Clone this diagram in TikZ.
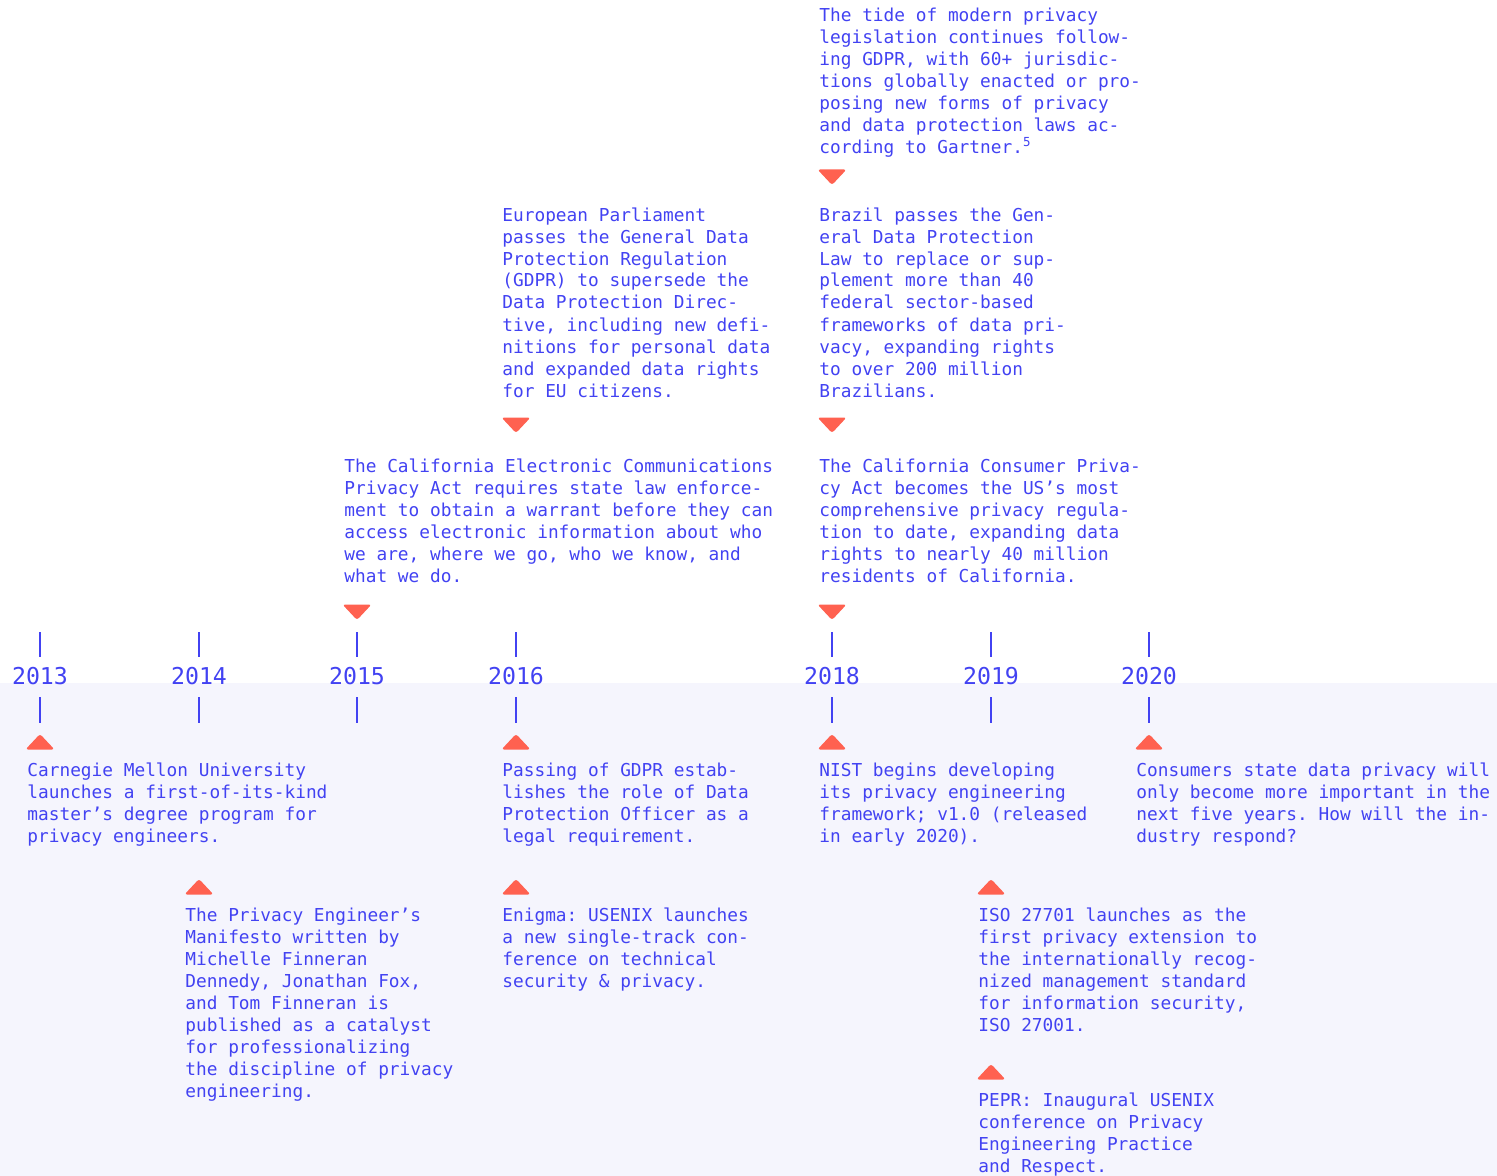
\documentclass[tikz,border=0pt]{standalone}
\usepackage{fontspec}
\setmonofont{DejaVu Sans Mono}
\usetikzlibrary{positioning}
\definecolor{tlink}{HTML}{4242F2}
\definecolor{tlcoral}{HTML}{FF6150}
\definecolor{tlshade}{HTML}{F5F5FD}
\newcommand{\notefont}{\ttfamily\fontsize{8.9}{11}\selectfont}
\newcommand{\yearfont}{\ttfamily\fontsize{11.6}{14}\selectfont}

\begin{document}
\begin{tikzpicture}[x=0.5pt, y=-0.5pt,
    note/.style={font=\notefont, text=tlink, align=left, inner sep=0pt, anchor=base west},
    year/.style={font=\yearfont, text=tlink, inner sep=0pt, anchor=base},
    yeartick/.style={draw=tlink, line width=0.8pt},
    uptri/.pic={\fill[tlcoral, rounded corners=1.3pt] (-14.5,7.5) -- (0,-8) -- (14.5,7.5) -- cycle;},
    downtri/.pic={\fill[tlcoral, rounded corners=1.3pt] (-14.5,-7.5) -- (0,8) -- (14.5,-7.5) -- cycle;}
  ]
    \useasboundingbox (0,0) rectangle (1497,1176);
    \fill[tlshade] (0,683) rectangle (1497,1176);

    % year axis
    \foreach \yr/\xx in {2013/40,2014/199,2015/357,2016/516,2018/832,2019/991,2020/1149} {
      \draw[yeartick] (\xx,632) -- (\xx,657);
      \node[year] (y\yr) at (\xx,684) {\yr};
      \draw[yeartick] (\xx,697) -- (\xx,723);
    }

    % events above the axis (notes sit on their last line)
    \pic at (832,177) {downtri};
    \node[note] (gartner) at (819,154) {The tide of modern privacy\\legislation continues follow-\\ing GDPR, with 60+ jurisdic-\\tions globally enacted or pro-\\posing new forms of privacy\\and data protection laws ac-\\cording to Gartner.\textsuperscript{5}};

    \pic at (516,425) {downtri};
    \node[note] (gdpr) at (502,397) {European Parliament\\passes the General Data\\Protection Regulation\\(GDPR) to supersede the\\Data Protection Direc-\\tive, including new defi-\\nitions for personal data\\and expanded data rights\\for EU citizens.};

    \pic at (832,425) {downtri};
    \node[note] (lgpd) at (819,397) {Brazil passes the Gen-\\eral Data Protection\\Law to replace or sup-\\plement more than 40\\federal sector-based\\frameworks of data pri-\\vacy, expanding rights\\to over 200 million\\Brazilians.};

    \pic at (357,612) {downtri};
    \node[note] (calecpa) at (344,582) {The California Electronic Communications\\Privacy Act requires state law enforce-\\ment to obtain a warrant before they can\\access electronic information about who\\we are, where we go, who we know, and\\what we do.};

    \pic at (832,612) {downtri};
    \node[note] (ccpa) at (819,582) {The California Consumer Priva-\\cy Act becomes the US’s most\\comprehensive privacy regula-\\tion to date, expanding data\\rights to nearly 40 million\\residents of California.};

    % events below the axis
    \pic at (40,742) {uptri};
    \node[note] (cmu) at (27,842) {Carnegie Mellon University\\launches a first-of-its-kind\\master’s degree program for\\privacy engineers.};

    \pic at (199,887) {uptri};
    \node[note] (manifesto) at (185,1097) {The Privacy Engineer’s\\Manifesto written by\\Michelle Finneran\\Dennedy, Jonathan Fox,\\and Tom Finneran is\\published as a catalyst\\for professionalizing\\the discipline of privacy\\engineering.};

    \pic at (516,742) {uptri};
    \node[note] (dpo) at (502,842) {Passing of GDPR estab-\\lishes the role of Data\\Protection Officer as a\\legal requirement.};

    \pic at (516,887) {uptri};
    \node[note] (enigma) at (502,987) {Enigma: USENIX launches\\a new single-track con-\\ference on technical\\security \& privacy.};

    \pic at (832,742) {uptri};
    \node[note] (nist) at (819,842) {NIST begins developing\\its privacy engineering\\framework; v1.0 (released\\in early 2020).};

    \pic at (991,887) {uptri};
    \node[note] (iso) at (978,1031) {ISO 27701 launches as the\\first privacy extension to\\the internationally recog-\\nized management standard\\for information security,\\ISO 27001.};

    \pic at (991,1072) {uptri};
    \node[note] (pepr) at (978,1172) {PEPR: Inaugural USENIX\\conference on Privacy\\Engineering Practice\\and Respect.};

    \pic at (1149,742) {uptri};
    \node[note] (outlook) at (1136,842) {Consumers state data privacy will\\only become more important in the\\next five years. How will the in-\\dustry respond?};
  \end{tikzpicture}
\end{document}
